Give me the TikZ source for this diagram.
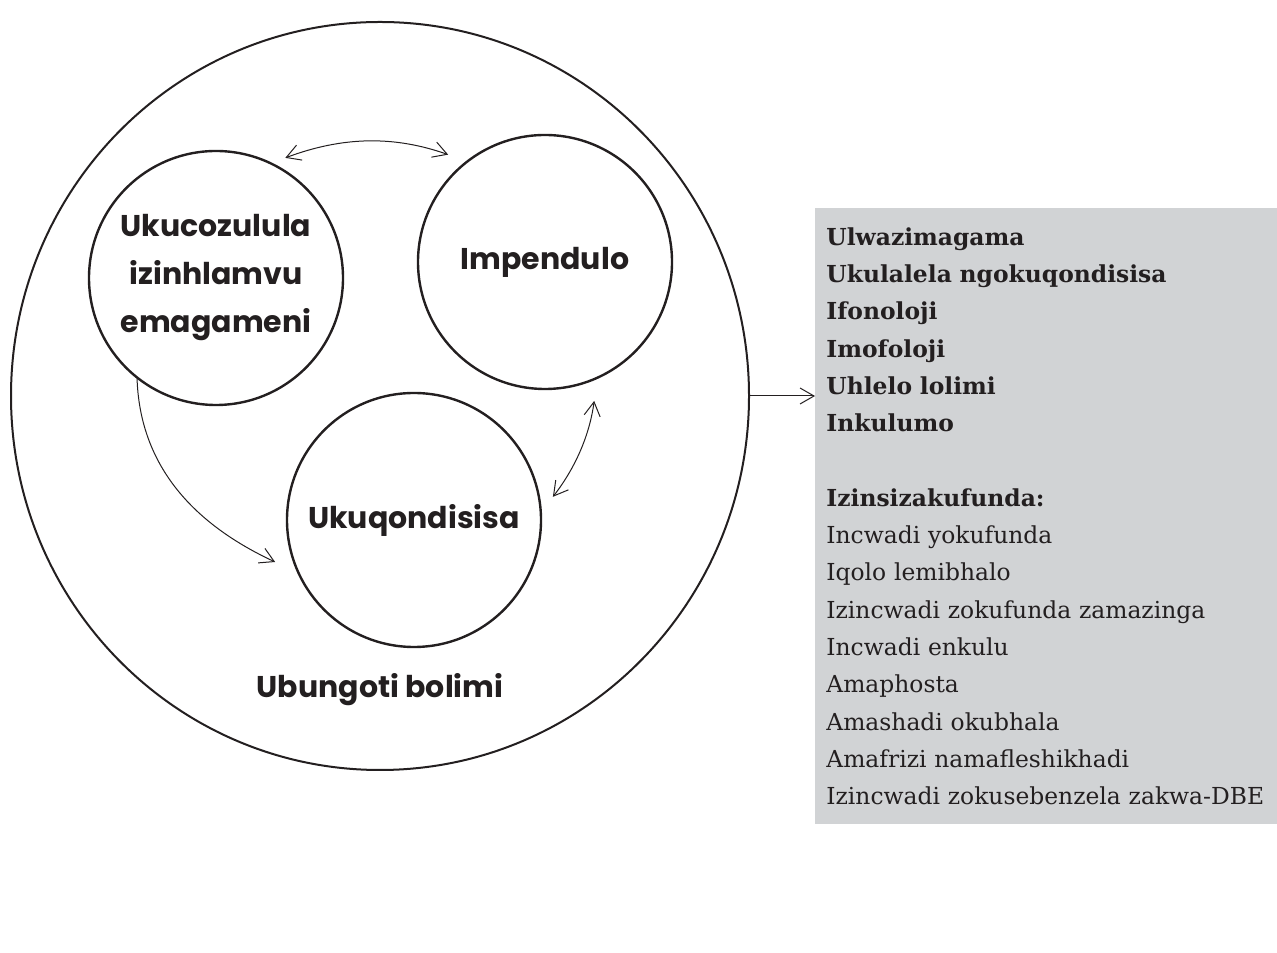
\documentclass[tikz,border=0pt]{standalone}
\usepackage{fontspec}
\setmainfont{DejaVu Serif}
\newfontfamily\bubblefont{Poppins}
\usepackage{tikz}
\usetikzlibrary{positioning,arrows.meta,shapes.geometric}
\definecolor{ink}{RGB}{35,31,32}
\definecolor{boxgray}{RGB}{209,211,213}

\begin{document}
\begin{tikzpicture}[%
        x=0.5pt, y=0.5pt,
        >={Straight Barb[length=7pt,width=8pt]},
        on grid,
        bubble/.style={circle, draw=ink, line width=1.2pt, minimum size=127pt,
          inner sep=0pt, align=center, text=ink,
          font=\bubblefont\bfseries\fontsize{15}{24}\selectfont},
        link/.style={color=ink, line width=0.5pt},
        listbox/.style={fill=boxgray, anchor=north west, align=left, text=ink,
          inner xsep=5.5pt, inner ysep=9.5pt, text width=220pt,
          font=\fontsize{11.7}{18.65}\selectfont}
        ]

        \useasboundingbox (0,0) rectangle (1277,952);

        \node[ellipse, draw=ink, line width=1pt, minimum width=369pt,
          minimum height=374pt, inner sep=0pt] (big) at (380,556) {};
        \node[bubble] (cozu) at (216,674) {Ukucozulula\\izinhlamvu\\emagameni};
        \node[bubble] (imp) [above right=8pt and 164.5pt of cozu] {Impendulo};
        \node[bubble] (uq) [below right=121pt and 99pt of cozu] {Ukuqondisisa};
        \node[anchor=base, text=ink, font=\bubblefont\bfseries\fontsize{15}{24}\selectfont]
          (skill) at (380,254) {Ubungoti bolimi};

        \node[listbox] (res) at (815,744) {%
          \textbf{Ulwazimagama}\\
          \textbf{Ukulalela ngokuqondisisa}\\
          \textbf{Ifonoloji}\\
          \textbf{Imofoloji}\\
          \textbf{Uhlelo lolimi}\\
          \textbf{Inkulumo}\\[18.65pt]
          \textbf{Izinsizakufunda:}\\
          Incwadi yokufunda\\
          Iqolo lemibhalo\\
          Izincwadi zokufunda zamazinga\\
          Incwadi enkulu\\
          Amaphosta\\
          Amashadi okubhala\\
          Amafrizi namafleshikhadi\\
          Izincwadi zokusebenzela zakwa-DBE};

        \path (cozu.64) edge[<->, link, bend left=20, shorten <=7pt, shorten >=9.5pt] (imp.128);
        \path (cozu.232) edge[->, link, out=-88, in=155, shorten >=12pt] (uq.204);
        \path (uq.4) edge[<->, link, bend right=15, shorten <=9pt, shorten >=11pt] (imp.-66);
        \path (big.east) edge[->, link] (big.east -| res.west);

\end{tikzpicture}
\end{document}
